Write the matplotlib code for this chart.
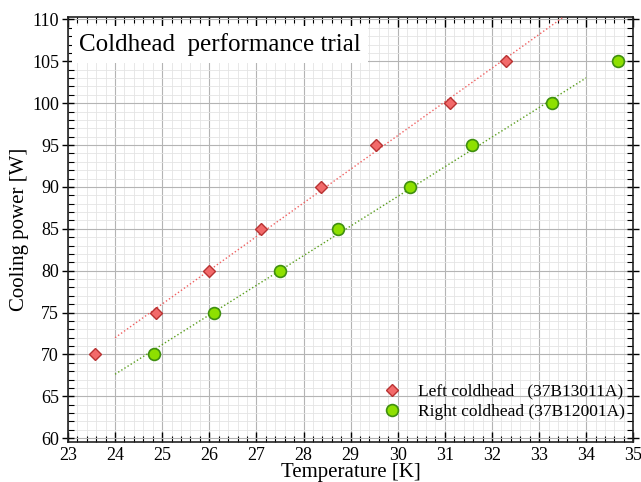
import numpy as np
import matplotlib
matplotlib.use('Agg')
import matplotlib.pyplot as plt
from matplotlib.ticker import MultipleLocator

plt.rcParams['font.family'] = ['Liberation Serif', 'DejaVu Serif']

# measured points: temperature [K] vs cooling power [W]
left_temp = [23.57, 24.86, 26.0, 27.09, 28.38, 29.54, 31.1, 32.3]
left_power = [70, 75, 80, 85, 90, 95, 100, 105]
right_temp = [24.82, 26.1, 27.5, 28.73, 30.26, 31.57, 33.27, 34.67]
right_power = [70, 75, 80, 85, 90, 95, 100, 105]
left_label = 'Left coldhead   (37B13011A)'
right_label = 'Right coldhead (37B12001A)'

fig, ax = plt.subplots(figsize=(6.41, 4.82), dpi=100)
fig.subplots_adjust(left=0.106, right=0.988, top=0.965, bottom=0.084)

# linear trend lines over 24..34 K
xfit = np.linspace(24, 34, 50)
p_left = np.polyfit(left_temp, left_power, 1)
p_right = np.polyfit(right_temp, right_power, 1)
ax.plot(xfit, np.polyval(p_left, xfit), ':', color='#f06060', lw=1.0, zorder=3)
ax.plot(xfit, np.polyval(p_right, xfit), ':', color='#5a9e1e', lw=1.0, zorder=3)

ax.plot(left_temp, left_power, 'D', ms=6, mfc='#f26a6a', mec='#b83232', mew=1.0,
        ls='none', label=left_label, zorder=4)
ax.plot(right_temp, right_power, 'o', ms=8.5, mfc='#8ee000', mec='#3f8f10', mew=1.2,
        ls='none', label=right_label, zorder=4)

ax.set_xlim(23, 35)
ax.set_ylim(59.6, 110.3)
ax.xaxis.set_major_locator(MultipleLocator(1))
ax.xaxis.set_minor_locator(MultipleLocator(0.2))
ax.yaxis.set_major_locator(MultipleLocator(5))
ax.yaxis.set_minor_locator(MultipleLocator(1))
ax.grid(which='major', color='#b4b4b4', lw=0.8)
ax.grid(which='minor', color='#e4e4e4', lw=0.6)
ax.set_axisbelow(True)
ax.tick_params(which='major', direction='in', length=7, width=1.0,
               top=True, right=True, labelsize=13, pad=4)
ax.tick_params(which='minor', direction='in', length=4, width=0.8,
               top=True, right=True)
ax.tick_params(axis='y', which='major', direction='inout', length=9, pad=2)
for s in ax.spines.values():
    s.set_linewidth(1.2)
    s.set_color('#222222')

ax.set_xlabel('Temperature [K]', fontsize=15, labelpad=-1)
ax.set_ylabel('Cooling power [W]', fontsize=15, labelpad=2)

ax.text(0.02, 0.936, 'Coldhead  performance trial', transform=ax.transAxes,
        fontsize=18, va='center', ha='left', zorder=5,
        bbox=dict(facecolor='white', edgecolor='none', pad=5))

ax.legend(loc='lower right', frameon=False, fontsize=12.5, handlelength=1.2,
          handletextpad=0.9, borderaxespad=0.1, labelspacing=0.25,
          bbox_to_anchor=(1.0, 0.03))

fig.savefig('out.png', dpi=100)
